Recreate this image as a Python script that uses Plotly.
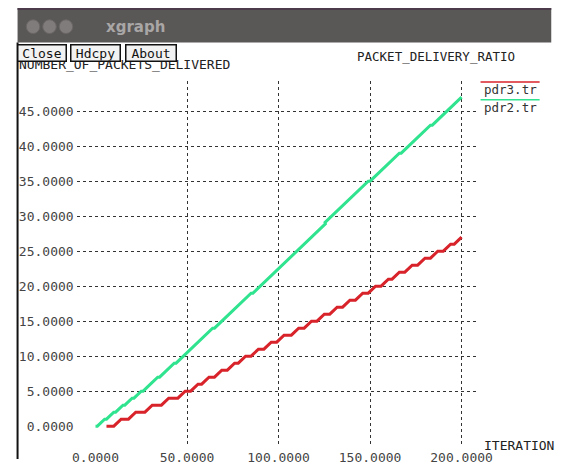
import plotly.graph_objects as go

W, H = 573, 465

# Iteration at which each successive packet was delivered
pdr2_times = [3, 8, 13, 18, 23, 28, 32, 37, 41, 46, 50, 54, 58, 62, 67, 71,
              75, 79, 83, 88, 92, 96, 100, 104, 108, 112, 116, 120, 124, 127,
              131, 135, 139, 143, 147, 152, 156, 160, 164, 169, 173, 177, 181,
              186, 190, 194, 198]
pdr3_times = [12, 20, 29, 38, 47, 54, 60, 67, 74, 80, 87, 94, 101, 109, 116,
              123, 130, 137, 144, 151, 158, 164, 171, 178, 185, 192, 198]
pdr2_start, pdr2_end = 0, 200
pdr3_start, pdr3_end = 6, 200

x_ticks = [0, 50, 100, 150, 200]
y_ticks = [0, 5, 10, 15, 20, 25, 30, 35, 40, 45]

RED = "#d8232a"
GREEN = "#2fe38f"
MONO = "DejaVu Sans Mono, Liberation Mono, monospace"


def staircase(times, start, end, ramp=2.0):
    """Cumulative delivered-packet count as a stepped path."""
    xs, ys = [start], [0]
    for k, t in enumerate(times, start=1):
        xs += [t - ramp, t + ramp]
        ys += [k - 1, k]
    xs.append(end)
    ys.append(len(times))
    return xs, ys


def px(x):
    return x / W


def py(y):
    return 1 - y / H


fig = go.Figure()
x3, y3 = staircase(pdr3_times, pdr3_start, pdr3_end)
x2, y2 = staircase(pdr2_times, pdr2_start, pdr2_end)
fig.add_trace(go.Scatter(x=x3, y=y3, mode="lines", name="pdr3.tr",
                         line=dict(color=RED, width=3)))
fig.add_trace(go.Scatter(x=x2, y=y2, mode="lines", name="pdr2.tr",
                         line=dict(color=GREEN, width=3)))

shapes = [
    # window title bar
    dict(type="rect", xref="paper", yref="paper", x0=px(14), x1=px(565),
         y0=py(43), y1=py(8), fillcolor="#5a5757", line=dict(width=0), layer="below"),
    dict(type="line", xref="paper", yref="paper", x0=px(14), x1=px(565),
         y0=py(9), y1=py(9), line=dict(color="#4b3b4b", width=2)),
    # left window border
    dict(type="line", xref="paper", yref="paper", x0=px(14), x1=px(14),
         y0=py(43), y1=0, line=dict(color="#111111", width=2)),
]
for cx in (30, 47, 64):
    shapes.append(dict(type="circle", xref="paper", yref="paper",
                       x0=px(cx - 7), x1=px(cx + 7), y0=py(34), y1=py(20),
                       fillcolor="#807c7c", line=dict(color="#6a6666", width=1)))
# legend swatches
shapes.append(dict(type="line", xref="paper", yref="paper", x0=px(492), x1=px(553),
                   y0=py(83), y1=py(83), line=dict(color=RED, width=1.5)))
shapes.append(dict(type="line", xref="paper", yref="paper", x0=px(492), x1=px(553),
                   y0=py(101), y1=py(101), line=dict(color=GREEN, width=1.5)))

annotations = [
    dict(text="<b>xgraph</b>", x=px(103), y=py(27), xanchor="left", yanchor="middle",
         font=dict(family="DejaVu Sans, sans-serif", size=15, color="#a9a6a6"),
         showarrow=False, xref="paper", yref="paper"),
    dict(text="NUMBER_OF_PACKETS_DELIVERED", x=px(13), y=py(65), xanchor="left",
         yanchor="middle", font=dict(family=MONO, size=13, color="#222222"),
         showarrow=False, xref="paper", yref="paper"),
]
for label, x0, x1 in (("Close", 14, 65), ("Hdcpy", 68, 120), ("About", 125, 178)):
    annotations.append(dict(text=label, x=px((x0 + x1) / 2), y=py(53.5),
                            xanchor="center", yanchor="middle",
                            width=x1 - x0 - 4, height=15,
                            bgcolor="#f2f2f2", bordercolor="#111111",
                            borderwidth=1.5, borderpad=0,
                            font=dict(family=MONO, size=13, color="#111111"),
                            showarrow=False, xref="paper", yref="paper"))
annotations += [
    dict(text="PACKET_DELIVERY_RATIO", x=px(446), y=py(57), xanchor="center",
         yanchor="middle", font=dict(family=MONO, size=12.5, color="#222222"),
         showarrow=False, xref="paper", yref="paper"),
    dict(text="pdr3.tr", x=px(493), y=py(91), xanchor="left", yanchor="middle",
         font=dict(family=MONO, size=12.5, color="#333333"),
         showarrow=False, xref="paper", yref="paper"),
    dict(text="pdr2.tr", x=px(493), y=py(109), xanchor="left", yanchor="middle",
         font=dict(family=MONO, size=12.5, color="#333333"),
         showarrow=False, xref="paper", yref="paper"),
    dict(text="ITERATION", x=px(570), y=py(451), xanchor="right", yanchor="middle",
         font=dict(family=MONO, size=13, color="#222222"),
         showarrow=False, xref="paper", yref="paper"),
]

grid = dict(showgrid=True, gridcolor="#333333", gridwidth=1, griddash="dot",
            zeroline=True, zerolinecolor="rgba(0,0,0,0)", zerolinewidth=1,
            showline=False, ticks="", tickformat=".4f",
            tickfont=dict(family=MONO, size=13, color="#444444"))

fig.update_layout(
    width=W, height=H, autosize=False,
    margin=dict(l=0, r=0, t=0, b=0, pad=0),
    paper_bgcolor="white", plot_bgcolor="white",
    showlegend=False,
    shapes=shapes,
    annotations=annotations,
    xaxis=dict(domain=[px(75), px(490)], range=[-10.3, 209.3],
               tickvals=x_ticks, ticklabelstandoff=2, **grid),
    yaxis=dict(domain=[py(452), py(82)], range=[-2.86, 49.32],
               tickvals=y_ticks, ticklabelstandoff=2, **grid),
)

fig.write_html(
    "out.html",
    config={"responsive": False, "displayModeBar": False},
    post_script="document.body.style.margin='0';"
                "document.body.style.overflow='hidden';",
)
